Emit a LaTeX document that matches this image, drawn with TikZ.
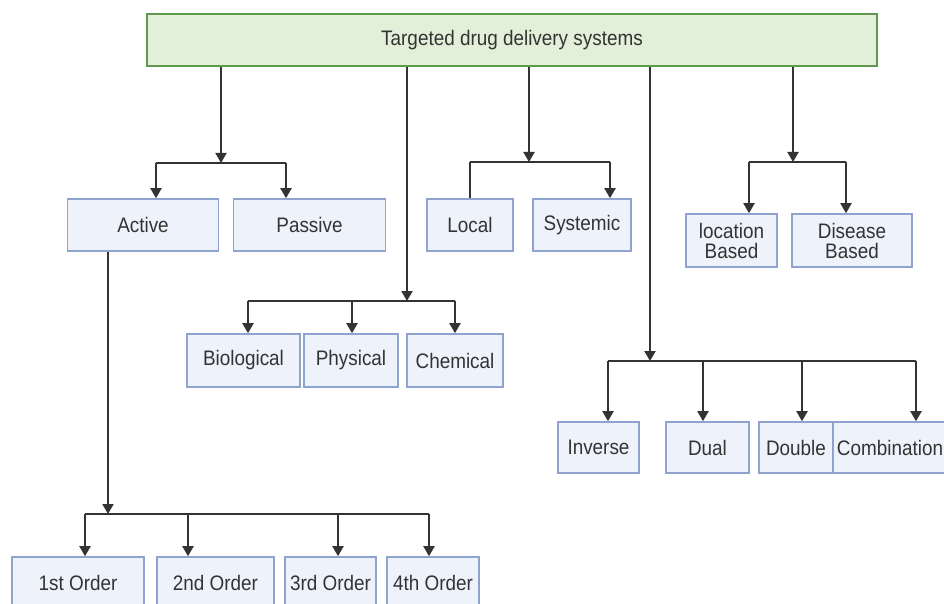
\documentclass[tikz,border=0pt]{standalone}
\usepackage{fontspec}
\setmainfont{Liberation Sans}[FakeStretch=0.9]
\usetikzlibrary{arrows.meta}
\definecolor{boxfill}{HTML}{EEF3FB}
\definecolor{boxline}{HTML}{8EA4CF}
\definecolor{topfill}{HTML}{E2EFD9}
\definecolor{topline}{HTML}{5E9A4C}
\definecolor{ink}{HTML}{333333}
\tikzset{
  bx/.style={draw=boxline, fill=boxfill, line width=1.6pt, text=ink, inner sep=0pt,
    font=\fontsize{21}{23}\selectfont, align=center},
  topbx/.style={bx, draw=topline, fill=topfill},
  ln/.style={draw=ink, line width=2pt, line join=miter},
  arr/.style={ln, -{Triangle[width=11pt,length=10pt]}},
}
\begin{document}
\begin{tikzpicture}[x=1pt,y=-1pt]
\useasboundingbox (0,0) rectangle (944,604);
\clip (0,0) rectangle (944,604);
% boxes
\node[topbx, minimum width=730pt, minimum height=52pt] (top) at (512,40) {Targeted drug delivery systems};
\node[bx, minimum width=151pt, minimum height=52pt] (act) at (143,225) {Active};
\node[bx, minimum width=152pt, minimum height=52pt] (pas) at (309.5,225) {Passive};
\node[bx, minimum width=86pt, minimum height=52pt] (loc) at (470,225) {Local};
\node[bx, minimum width=98pt, minimum height=52pt] (sys) at (582,225) {Systemic};
\node[bx, minimum width=91pt, minimum height=53pt] (lb) at (731.5,240.5) {location\\[-3pt]Based};
\node[bx, minimum width=120pt, minimum height=53pt] (db) at (852,240.5) {Disease\\[-3pt]Based};
\node[bx, minimum width=113pt, minimum height=53pt] (bio) at (243.5,360.5) {Biological};
\node[bx, minimum width=94pt, minimum height=53pt] (phy) at (351,360.5) {Physical};
\node[bx, minimum width=96pt, minimum height=53pt] (che) at (455,360.5) {Chemical};
\node[bx, minimum width=81pt, minimum height=51pt] (inv) at (598.5,447.5) {Inverse};
\node[bx, minimum width=83pt, minimum height=51pt] (dua) at (707.5,447.5) {Dual};
\node[bx, minimum width=74pt, minimum height=51pt] (dou) at (796,447.5) {Double};
\node[bx, minimum width=114pt, minimum height=51pt] (com) at (890,447.5) {Combination};
\node[bx, minimum width=132pt, minimum height=52pt] (o1) at (78,583) {1st Order};
\node[bx, minimum width=117pt, minimum height=52pt] (o2) at (215.5,583) {2nd Order};
\node[bx, minimum width=91pt, minimum height=52pt] (o3) at (330.5,583) {3rd Order};
\node[bx, minimum width=92pt, minimum height=52pt] (o4) at (433,583) {4th Order};
% group 1: Active / Passive
\coordinate (s1) at (221,163);
\coordinate (b1l) at (156,163);
\coordinate (b1r) at (286,163);
\draw[arr] (top.south -| s1) -- (s1);
\draw[ln] (b1l) -- (b1r);
\draw[arr] (b1l) -- (b1l |- act.north);
\draw[arr] (b1r) -- (b1r |- pas.north);
% group 2: Biological / Physical / Chemical
\coordinate (s2) at (407,301);
\coordinate (b2l) at (248,301);
\coordinate (b2m) at (352,301);
\coordinate (b2r) at (455,301);
\draw[arr] (top.south -| s2) -- (s2);
\draw[ln] (b2l) -- (b2r);
\draw[arr] (b2l) -- (b2l |- bio.north);
\draw[arr] (b2m) -- (b2m |- phy.north);
\draw[arr] (b2r) -- (b2r |- che.north);
% group 3: Local / Systemic
\coordinate (s3) at (529,162);
\coordinate (b3l) at (470,162);
\coordinate (b3r) at (610,162);
\draw[arr] (top.south -| s3) -- (s3);
\draw[ln] (b3l) -- (b3r);
\draw[ln] (b3l) -- (b3l |- loc.north);
\draw[arr] (b3r) -- (b3r |- sys.north);
% group 4: Inverse / Dual / Double / Combination
\coordinate (s4) at (650,361);
\coordinate (b4a) at (608,361);
\coordinate (b4b) at (703,361);
\coordinate (b4c) at (802,361);
\coordinate (b4d) at (916,361);
\draw[arr] (top.south -| s4) -- (s4);
\draw[ln] (b4a) -- (b4d);
\draw[arr] (b4a) -- (b4a |- inv.north);
\draw[arr] (b4b) -- (b4b |- dua.north);
\draw[arr] (b4c) -- (b4c |- dou.north);
\draw[arr] (b4d) -- (b4d |- com.north);
% group 5: location / disease
\coordinate (s5) at (793,162);
\coordinate (b5l) at (749,162);
\coordinate (b5r) at (846,162);
\draw[arr] (top.south -| s5) -- (s5);
\draw[ln] (b5l) -- (b5r);
\draw[arr] (b5l) -- (b5l |- lb.north);
\draw[arr] (b5r) -- (b5r |- db.north);
% group 6: orders
\coordinate (s6) at (108,514);
\coordinate (b6a) at (85,514);
\coordinate (b6b) at (188,514);
\coordinate (b6c) at (338,514);
\coordinate (b6d) at (429,514);
\draw[arr] (act.south -| s6) -- (s6);
\draw[ln] (b6a) -- (b6d);
\draw[arr] (b6a) -- (b6a |- o1.north);
\draw[arr] (b6b) -- (b6b |- o2.north);
\draw[arr] (b6c) -- (b6c |- o3.north);
\draw[arr] (b6d) -- (b6d |- o4.north);
\end{tikzpicture}
\end{document}
